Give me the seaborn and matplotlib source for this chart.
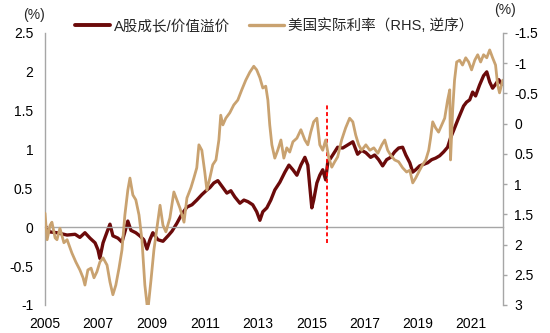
import matplotlib
matplotlib.use("Agg")
import matplotlib.pyplot as plt
import seaborn as sns
import numpy as np
from matplotlib.ticker import FuncFormatter
from matplotlib.lines import Line2D

# ---------------- data ----------------
premium_years = [2005.00, 2005.19, 2005.45, 2005.83, 2006.13, 2006.31, 2006.50, 2006.69, 2006.88, 2006.99,
                 2007.06, 2007.18, 2007.33, 2007.44, 2007.55, 2007.74, 2007.89, 2008.00, 2008.11, 2008.23,
                 2008.41, 2008.56, 2008.71, 2008.83, 2008.94, 2009.05, 2009.24, 2009.43, 2009.62, 2009.77,
                 2009.95, 2010.14, 2010.33, 2010.52, 2010.70, 2010.89, 2011.08, 2011.19, 2011.34, 2011.49,
                 2011.64, 2011.83, 2011.98, 2012.13, 2012.32, 2012.47, 2012.62, 2012.80, 2012.95, 2013.07,
                 2013.18, 2013.33, 2013.48, 2013.63, 2013.82, 2014.01, 2014.16, 2014.31, 2014.46, 2014.61,
                 2014.76, 2014.87, 2014.94, 2015.02, 2015.09, 2015.21, 2015.32, 2015.43, 2015.54, 2015.62,
                 2015.73, 2015.88, 2015.99, 2016.18, 2016.37, 2016.56, 2016.74, 2016.89, 2017.05, 2017.23,
                 2017.38, 2017.53, 2017.68, 2017.83, 2017.98, 2018.13, 2018.28, 2018.43, 2018.55, 2018.70,
                 2018.81, 2018.92, 2019.07, 2019.22, 2019.37, 2019.52, 2019.67, 2019.82, 2019.97, 2020.12,
                 2020.23, 2020.35, 2020.50, 2020.61, 2020.72, 2020.83, 2020.95, 2021.06, 2021.17, 2021.32,
                 2021.47, 2021.59, 2021.70, 2021.81, 2021.92, 2022.04, 2022.15]
premium_values = [0.02, -0.06, -0.07, -0.10, -0.09, -0.13, -0.07, -0.14, -0.20, -0.29,
                  -0.40, -0.20, -0.06, 0.04, -0.11, -0.14, -0.19, -0.06, 0.08, -0.04,
                  -0.07, -0.11, -0.16, -0.28, -0.16, -0.07, -0.16, -0.18, -0.11, -0.05,
                  0.05, 0.17, 0.26, 0.29, 0.35, 0.42, 0.48, 0.51, 0.57, 0.60,
                  0.53, 0.44, 0.47, 0.39, 0.31, 0.35, 0.33, 0.29, 0.20, 0.09,
                  0.20, 0.25, 0.35, 0.48, 0.58, 0.71, 0.80, 0.74, 0.67, 0.80,
                  0.90, 0.80, 0.54, 0.25, 0.35, 0.57, 0.67, 0.74, 0.61, 0.84,
                  0.89, 0.97, 1.03, 1.02, 1.06, 1.10, 0.94, 0.99, 0.96, 0.90,
                  0.93, 0.87, 0.79, 0.87, 0.90, 0.97, 1.02, 1.03, 0.93, 0.83,
                  0.71, 0.74, 0.79, 0.81, 0.83, 0.87, 0.89, 0.92, 0.97, 1.03,
                  1.15, 1.25, 1.38, 1.47, 1.56, 1.61, 1.64, 1.74, 1.69, 1.83,
                  1.95, 2.00, 1.87, 1.79, 1.84, 1.90, 1.84]

rate_years = [2005.00, 2005.08, 2005.19, 2005.26, 2005.38, 2005.45, 2005.56, 2005.71, 2005.83, 2006.01,
              2006.16, 2006.31, 2006.43, 2006.50, 2006.61, 2006.73, 2006.84, 2006.95, 2007.06, 2007.18,
              2007.33, 2007.44, 2007.55, 2007.66, 2007.78, 2007.89, 2008.00, 2008.11, 2008.19, 2008.30,
              2008.41, 2008.53, 2008.64, 2008.75, 2008.86, 2008.98, 2009.09, 2009.20, 2009.32, 2009.43,
              2009.54, 2009.69, 2009.84, 2009.95, 2010.07, 2010.22, 2010.33, 2010.48, 2010.59, 2010.70,
              2010.78, 2010.89, 2011.00, 2011.08, 2011.19, 2011.30, 2011.42, 2011.53, 2011.60, 2011.68,
              2011.79, 2011.94, 2012.09, 2012.24, 2012.39, 2012.54, 2012.69, 2012.84, 2012.95, 2013.07,
              2013.18, 2013.29, 2013.37, 2013.44, 2013.52, 2013.63, 2013.74, 2013.86, 2013.97, 2014.08,
              2014.19, 2014.31, 2014.46, 2014.61, 2014.76, 2014.87, 2014.98, 2015.09, 2015.21, 2015.32,
              2015.43, 2015.54, 2015.66, 2015.77, 2015.88, 2015.99, 2016.14, 2016.29, 2016.44, 2016.56,
              2016.67, 2016.78, 2016.89, 2017.05, 2017.20, 2017.35, 2017.50, 2017.65, 2017.76, 2017.87,
              2017.98, 2018.13, 2018.28, 2018.43, 2018.58, 2018.70, 2018.81, 2018.92, 2019.07, 2019.18,
              2019.30, 2019.41, 2019.48, 2019.56, 2019.67, 2019.78, 2019.90, 2020.01, 2020.12, 2020.20,
              2020.23, 2020.31, 2020.38, 2020.46, 2020.57, 2020.68, 2020.80, 2020.91, 2021.02, 2021.14,
              2021.25, 2021.36, 2021.47, 2021.59, 2021.70, 2021.81, 2021.92, 2022.00, 2022.07, 2022.19]
rate_values = [1.48, 1.92, 1.68, 1.63, 1.89, 1.92, 1.73, 1.97, 1.92, 2.14,
               2.29, 2.42, 2.55, 2.67, 2.42, 2.39, 2.55, 2.45, 2.29, 2.22,
               2.34, 2.62, 2.83, 2.67, 2.39, 2.09, 1.51, 1.10, 0.90, 1.18,
               1.26, 1.51, 1.92, 2.67, 3.10, 2.59, 2.09, 1.73, 1.35, 1.68,
               1.79, 1.56, 1.13, 1.26, 1.40, 1.63, 1.23, 1.06, 0.90, 0.73,
               0.35, 0.44, 0.80, 1.10, 0.90, 0.68, 0.60, 0.27, -0.14, 0.02,
               -0.09, -0.18, -0.31, -0.39, -0.56, -0.72, -0.85, -0.95, -0.89, -0.76,
               -0.59, -0.62, -0.39, 0.02, 0.35, 0.57, 0.44, 0.27, 0.57, 0.40,
               0.47, 0.30, 0.24, 0.10, 0.27, 0.35, 0.14, -0.03, -0.09, 0.35,
               0.44, 0.27, 0.57, 0.72, 0.63, 0.55, 0.27, 0.07, -0.09, -0.03,
               0.19, 0.35, 0.44, 0.35, 0.44, 0.40, 0.49, 0.35, 0.27, 0.44,
               0.52, 0.60, 0.63, 0.73, 0.80, 0.77, 0.98, 0.90, 0.77, 0.68,
               0.60, 0.44, 0.24, -0.03, 0.07, 0.14, 0.02, -0.09, -0.39, -0.56,
               0.60, -0.23, -0.72, -1.02, -1.05, -0.97, -1.09, -1.02, -0.89, -1.05,
               -1.14, -1.02, -1.14, -1.09, -1.22, -1.09, -0.97, -0.64, -0.51, -0.72]

label_premium = "A股成长/价值溢价"
label_rate = "美国实际利率（RHS, 逆序）"
year_ticks = [2005, 2007, 2009, 2011, 2013, 2015, 2017, 2019, 2021]
left_ticks = [-1, -0.5, 0, 0.5, 1, 1.5, 2, 2.5]
right_ticks = [-1.5, -1, -0.5, 0, 0.5, 1, 1.5, 2, 2.5, 3]
event_year = 2015.6
event_span = (-0.2, 1.6)

# ---------------- style ----------------
sns.set_theme(style="white")
plt.rcParams["font.family"] = ["Liberation Sans", "Noto Sans CJK SC", "DejaVu Sans"]
plt.rcParams["axes.unicode_minus"] = False

RED = "#6B0A0A"
TAN = "#C9A270"
GRAY = "#A6A6A6"
FS = 10
LFS = 10.5

fig = plt.figure(figsize=(5.5, 3.33), dpi=100)
ax = fig.add_axes([45/550, 1-305/333, (503-45)/550, (305-33)/333])
ax2 = ax.twinx()

sns.lineplot(x=premium_years, y=premium_values, ax=ax, color=RED, linewidth=2.4,
             errorbar=None, legend=False)
sns.lineplot(x=rate_years, y=rate_values, ax=ax2, color=TAN, linewidth=2.0,
             errorbar=None, legend=False)

ax.set_xlim(2005, 2022.2)
ax.set_ylim(-1, 2.5)
ax2.set_ylim(3, -1.5)

fmt = FuncFormatter(lambda v, p: f"{v:g}")
ax.set_yticks(left_ticks)
ax.yaxis.set_major_formatter(fmt)
ax2.set_yticks(right_ticks)
ax2.yaxis.set_major_formatter(fmt)

for a in (ax, ax2):
    a.set_xlabel("")
    a.set_ylabel("")
    for s in a.spines.values():
        s.set_color(GRAY)
        s.set_linewidth(1.0)
    a.spines["top"].set_visible(False)

ax.spines["right"].set_visible(False)
ax2.spines["left"].set_visible(False)
ax2.spines["bottom"].set_visible(False)
ax.spines["bottom"].set_position(("data", 0))

ax.tick_params(axis="y", length=0, pad=8.5, labelsize=FS, colors="black")
ax2.tick_params(axis="y", direction="out", length=3, width=1, color=GRAY, pad=5,
                labelsize=FS, labelcolor="black")

ax.set_xticks(year_ticks)
ax.tick_params(axis="x", direction="out", length=2.5, width=1, color=GRAY, labelbottom=False)

sec = ax.secondary_xaxis("bottom")
sec.set_xticks(year_ticks)
sec.set_xticklabels([str(y) for y in year_ticks])
sec.tick_params(axis="x", length=0, pad=9, labelsize=FS, colors="black")
sec.spines["bottom"].set_visible(False)

ax.vlines(event_year, event_span[0], event_span[1], colors="#FF0000",
          linestyles=(0, (2.2, 1.5)), linewidth=1.3, zorder=5)

handles = [Line2D([0], [0], color=RED, lw=2.8), Line2D([0], [0], color=TAN, lw=2.4)]
ax.legend(handles, [label_premium, label_rate], loc="center", bbox_to_anchor=(0.5, 1.026),
          ncol=2, frameon=False, fontsize=LFS, handlelength=2.4, handletextpad=0.25,
          columnspacing=1.3, borderpad=0)

fig.text(34/550, 1-15/333, "(%)", ha="center", va="center", fontsize=FS)
fig.text(505/550, 1-10/333, "(%)", ha="center", va="center", fontsize=FS)

fig.savefig("out.png", dpi=100)
